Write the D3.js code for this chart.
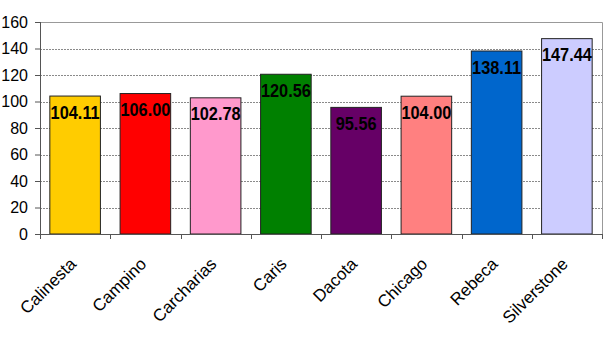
<!DOCTYPE html>
<html>
<head>
<script src="https://d3js.org/d3.v7.min.js"></script>
<style>
  body { margin: 0; background: #fff; }
  svg { display: block; font-family: Arial, "Liberation Sans", sans-serif; }
</style>
</head>
<body>
<script>
// chart data
var categories = ["Calinesta", "Campino", "Carcharias", "Caris", "Dacota", "Chicago", "Rebeca", "Silverstone"];
var values = [104.11, 106.00, 102.78, 120.56, 95.56, 104.00, 138.11, 147.44];
var barColors = ["#FFCC00", "#FF0000", "#FF99CC", "#008000", "#660066", "#FF8080", "#0066CC", "#CCCCFF"];
var yTicks = [0, 20, 40, 60, 80, 100, 120, 140, 160];

var width = 606, height = 341;
// plot area (note: "top" is a reserved window global, so use other names)
var plotLeft = 40, plotRight = 602, plotTop = 22, plotBottom = 234;

var svg = d3.select("body").append("svg")
  .attr("width", width)
  .attr("height", height);

var x = d3.scaleBand()
  .domain(categories)
  .range([plotLeft, plotRight])
  .paddingInner(0.28)
  .paddingOuter(0.14);

var y = d3.scaleLinear()
  .domain([0, 160])
  .range([plotBottom, plotTop]);

// dotted grid lines
svg.append("g").selectAll("line")
  .data(yTicks.filter(function(d) { return d > 0 && d < 160; }))
  .enter().append("line")
  .attr("x1", plotLeft).attr("x2", plotRight)
  .attr("y1", function(d) { return Math.round(y(d)) + 0.5; })
  .attr("y2", function(d) { return Math.round(y(d)) + 0.5; })
  .attr("stroke", "#8a8a8a")
  .attr("stroke-width", 1)
  .attr("stroke-dasharray", "2,1");

// plot border top and right
svg.append("path")
  .attr("d", "M" + plotLeft + "," + (Math.round(y(160)) + 0.5) + "H" + (plotRight + 0.5) + "V" + plotBottom)
  .attr("fill", "none")
  .attr("stroke", "#999")
  .attr("stroke-width", 1);

// bars
svg.append("g").selectAll("rect")
  .data(values)
  .enter().append("rect")
  .attr("x", function(d, i) { return x(categories[i]); })
  .attr("y", function(d) { return y(d); })
  .attr("width", x.bandwidth())
  .attr("height", function(d) { return y(0) - y(d); })
  .attr("fill", function(d, i) { return barColors[i]; })
  .attr("stroke", "#222")
  .attr("stroke-width", 1);

// value labels
svg.append("g").selectAll("text")
  .data(values)
  .enter().append("text")
  .attr("transform", function(d, i) {
    return "translate(" + (x(categories[i]) + x.bandwidth() / 2) + "," + (y(d) + 22.5) + ") scale(0.86,1)";
  })
  .attr("text-anchor", "middle")
  .attr("font-size", "19px")
  .attr("font-weight", "bold")
  .attr("fill", "#000")
  .text(function(d) { return d.toFixed(2); });

// y axis
var yAxis = svg.append("g")
  .attr("transform", "translate(" + plotLeft + ",0)")
  .call(d3.axisLeft(y).tickValues(yTicks).tickSize(5).tickPadding(7));
yAxis.select(".domain").attr("stroke", "#555").attr("d", "M0.5," + plotBottom + "V" + plotTop);
yAxis.selectAll(".tick line").attr("stroke", "#555");
yAxis.selectAll(".tick text")
  .attr("font-size", "16px")
  .attr("font-family", "Arial, 'Liberation Sans', sans-serif")
  .attr("fill", "#000");

// x axis line with ticks on band edges
var edges = categories.map(function(c) { return x(c) - x.step() * x.paddingInner() / 2; });
edges.push(plotRight);
svg.append("line")
  .attr("x1", plotLeft).attr("x2", plotRight)
  .attr("y1", plotBottom + 0.5).attr("y2", plotBottom + 0.5)
  .attr("stroke", "#555");
svg.append("g").selectAll("line")
  .data(edges)
  .enter().append("line")
  .attr("x1", function(d) { return Math.round(d) + 0.5; })
  .attr("x2", function(d) { return Math.round(d) + 0.5; })
  .attr("y1", plotBottom).attr("y2", plotBottom + 5)
  .attr("stroke", "#555");

// category labels
svg.append("g").selectAll("text")
  .data(categories)
  .enter().append("text")
  .attr("transform", function(d) {
    return "translate(" + (x(d) + x.bandwidth() / 2 + 2) + "," + 265 + ") rotate(-45)";
  })
  .attr("text-anchor", "end")
  .attr("font-size", "17px")
  .attr("fill", "#000")
  .text(function(d) { return d; });
</script>
</body>
</html>
